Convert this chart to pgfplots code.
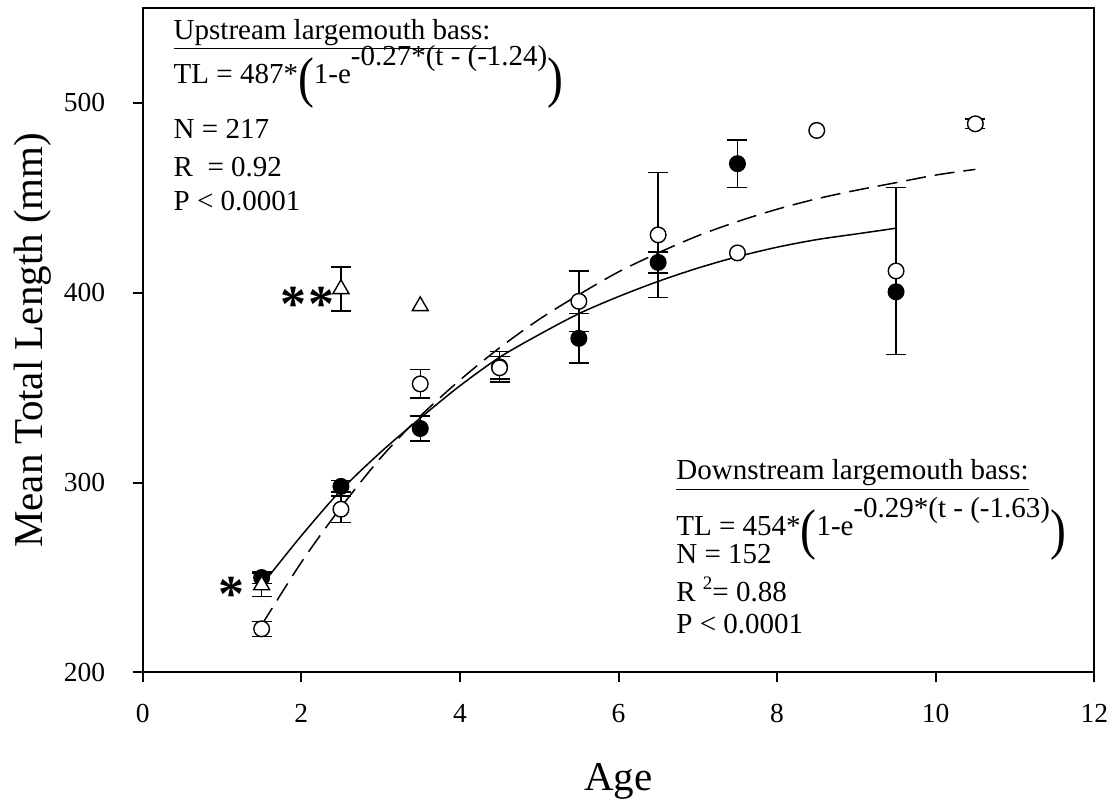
\documentclass[border=0pt]{standalone}
\usepackage{pgfplots}
\usepackage{pgfplotstable}
\pgfplotsset{compat=1.18}
\usepackage{fontspec}
\setmainfont{Liberation Serif}
\usetikzlibrary{calc}

% mean total length by age, with standard error (0 = no bar drawn)
\pgfplotstableread{
x    y      e
1.5  250    3
2.5  298    3
3.5  328.5  6.5
4.5  361    8
5.5  376    13
6.5  416    5.5
7.5  468    12.5
9.5  400.5  0
}\filledpts

\pgfplotstableread{
x    y      e
1.5  246    6
2.5  402    11.5
3.5  393    0
}\trianglepts

\pgfplotstableread{
x    y      e
1.5  223    4
2.5  286    7
3.5  352    7.5
4.5  360.5  6
5.5  395.5  16
6.5  430.5  33
7.5  421    0
8.5  485.5  0
9.5  411.5  44
10.5 489    2.5
}\openpts

% fitted growth curves
\pgfplotstableread{
x    y
1.5  246
2.0  272
2.5  296
3.0  316
3.5  334
4.0  351
4.5  366
5.0  378
5.5  389
6.0  398
6.5  406
7.0  413
7.5  419
8.0  424
8.5  428
9.0  431
9.5  434
}\solidfit

\pgfplotstableread{
x    y
1.5  225
2.0  258
2.5  287
3.0  313
3.5  335
4.0  354
4.5  371
5.0  386
5.5  399
6.0  411
6.5  421
7.0  430
7.5  437.5
8.0  444
8.5  449.5
9.0  454
9.5  458
10.0 462
10.5 465
}\dashedfit

\newcommand\annfont{\fontsize{14.5pt}{17pt}\selectfont}
\newcommand\bigparen[1]{\raisebox{-6.5pt}{\scalebox{0.85}[1]{\fontsize{28pt}{28pt}\selectfont #1}}}
\newcommand\expo[1]{\raisebox{9pt}{#1}}
\newcommand\asterfont{\fontsize{26pt}{26pt}\selectfont\bfseries}

\pgfplotsset{
  sebars/.style={
    draw=none, no markers, forget plot,
    x filter/.expression={\thisrow{e}==0 ? nan : x},
    error bars/.cd, y dir=both, y explicit,
    error bar style={draw=black, line width=0.7pt},
    error mark options={draw=black, rotate=90, line width=0.7pt, mark size=5pt},
  },
}

\begin{document}
\begin{tikzpicture}
\begin{axis}[
  scale only axis,
  width=475.8pt, height=332.25pt,
  xmin=0, xmax=12, ymin=200, ymax=550,
  xtick={0,2,4,6,8,10,12},
  ytick={200,300,400,500},
  xtick pos=left, ytick pos=left,
  tick align=outside,
  major tick length=5pt,
  axis line style={line width=1pt},
  every tick/.style={line width=1pt, black},
  /pgf/number format/assume math mode=true,
  tick label style={font=\fontsize{13.75pt}{16pt}\selectfont},
  xticklabel style={yshift=-7.5pt},
  yticklabel style={xshift=-10.3pt},
  xlabel={Age},
  ylabel={Mean Total Length (mm)},
  label style={font=\fontsize{20.5pt}{24pt}\selectfont},
  xlabel style={at={(axis description cs:0.5,-0.1783)}, anchor=base},
  ylabel style={at={(axis description cs:-0.1058,0.5)}, anchor=base},
  clip=false,
]

% standard error bars, under the symbols
\addplot[sebars] table[x=x, y=y, y error=e] {\filledpts};
\addplot[sebars] table[x=x, y=y, y error=e] {\trianglepts};
\addplot[sebars] table[x=x, y=y, y error=e] {\openpts};

% means
\addplot[only marks, mark=*, mark size=3.9pt,
  mark options={draw=black, fill=black, line width=0.7pt}]
  table[x=x, y=y] {\filledpts};
\addplot[only marks, mark=triangle*, mark size=4.6pt,
  mark options={draw=black, fill=white, line width=0.7pt}]
  table[x=x, y=y] {\trianglepts};
\addplot[only marks, mark=*, mark size=3.9pt,
  mark options={draw=black, fill=white, line width=0.7pt}]
  table[x=x, y=y] {\openpts};

% von Bertalanffy fits
\addplot[black, line width=0.75pt, smooth, no markers] table[x=x, y=y] {\solidfit};
\addplot[black, line width=0.75pt, smooth, no markers, dash pattern=on 10pt off 4.5pt] table[x=x, y=y] {\dashedfit};

% significance markers
\node[anchor=base, font=\asterfont, yshift=-12.3pt] at (axis cs:1.126,245) {*};
\node[anchor=base, font=\asterfont, yshift=-12.3pt] at (axis cs:1.90,398) {*};
\node[anchor=base, font=\asterfont, yshift=-12.3pt] at (axis cs:2.25,398) {*};

% upstream fit summary
\node[anchor=base west, font=\annfont, inner sep=0pt] at (axis description cs:0.0322,0.9531) {\underline{Upstream largemouth bass:}};
\node[anchor=base west, font=\annfont, inner sep=0pt] at (axis description cs:0.0322,0.8867) {TL = 487*\bigparen{(}1-e\expo{-0.27*(t - (-1.24)}\bigparen{)}};
\node[anchor=base west, font=\annfont, inner sep=0pt] at (axis description cs:0.0322,0.8036) {N = 217};
\node[anchor=base west, font=\annfont, inner sep=0pt] at (axis description cs:0.0322,0.7467) {R\ \ = 0.92};
\node[anchor=base west, font=\annfont, inner sep=0pt] at (axis description cs:0.0322,0.6950) {P < 0.0001};

% downstream fit summary
\node[anchor=base west, font=\annfont, inner sep=0pt] at (axis description cs:0.5604,0.2897) {\underline{Downstream largemouth bass:}};
\node[anchor=base west, font=\annfont, inner sep=0pt] at (axis description cs:0.5604,0.2069) {TL = 454*\bigparen{(}1-e\expo{-0.29*(t - (-1.63)}\bigparen{)}};
\node[anchor=base west, font=\annfont, inner sep=0pt] at (axis description cs:0.5604,0.1643) {N = 152};
\node[anchor=base west, font=\annfont, inner sep=0pt] at (axis description cs:0.5604,0.1065) {R \raisebox{6pt}{\fontsize{9.5pt}{10pt}\selectfont 2}= 0.88};
\node[anchor=base west, font=\annfont, inner sep=0pt] at (axis description cs:0.5604,0.0590) {P < 0.0001};
\end{axis}
\pgfresetboundingbox
\path ($(current axis.south west)+(-71.35pt,-66.75pt)$) rectangle ($(current axis.north east)+(11.35pt,4pt)$);
\end{tikzpicture}
\end{document}
